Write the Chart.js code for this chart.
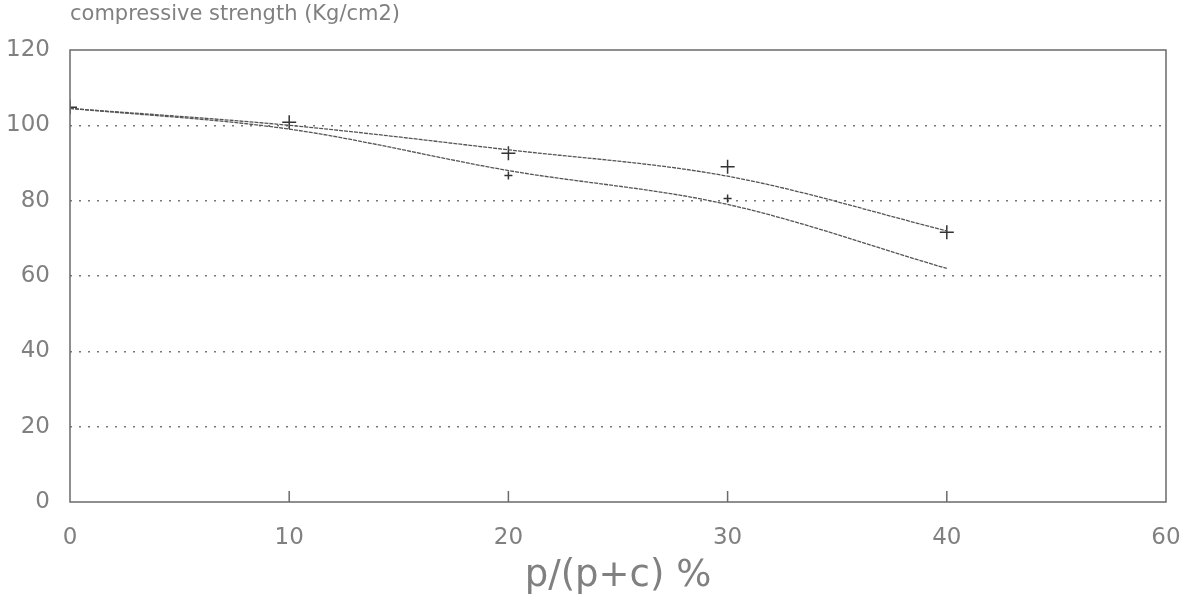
<!DOCTYPE html>
<html>
<head>
<meta charset="utf-8">
<script src="https://cdn.jsdelivr.net/npm/chart.js@4"></script>
<style>
  html, body { margin: 0; padding: 0; background: #fff; }
  #wrap { width: 1184px; height: 595px; }
</style>
</head>
<body>
<div id="wrap"><canvas id="grafico"></canvas></div>
<script>
// datos
const xPuntos = [0, 10, 20, 30, 40];
const xEtiquetas = ['0', '10', '20', '30', '40', '60'];   // el eje original salta de 40 a 60
const curvaSuperior = [104.5, 100, 93.5, 86.5, 72];
const curvaInferior = [104.5, 99, 88, 79, 62];
const marcasCruz = [104.8, 100.8, 92.6, 89, 71.6];
const marcasInferior = [null, null, 86.7, 80.6, null];
const yTicks = [0, 20, 40, 60, 80, 100, 120];

const gris = '#6a6a6a';
const fuente = 'DejaVu Sans';

function aPuntos(valores) {
    return xPuntos.map((x, i) => ({ x: x, y: valores[i] })).filter(p => p.y !== null);
}

// marco, marcas del eje x y título superior
const marco = {
    id: 'marco',
    afterDraw(chart) {
        const { ctx, chartArea, scales } = chart;
        ctx.save();
        ctx.strokeStyle = gris;
        ctx.lineWidth = 1.5;
        ctx.strokeRect(chartArea.left, chartArea.top, chartArea.right - chartArea.left, chartArea.bottom - chartArea.top);
        [10, 20, 30, 40].forEach(v => {
            const px = scales.x.getPixelForValue(v);
            ctx.beginPath();
            ctx.moveTo(px, chartArea.bottom);
            ctx.lineTo(px, chartArea.bottom - 11);
            ctx.stroke();
        });
        ctx.fillStyle = '#808080';
        ctx.font = '21px "' + fuente + '"';
        ctx.textBaseline = 'middle';
        ctx.textAlign = 'left';
        ctx.fillText('compressive strength (Kg/cm2)', chartArea.left, 15);
        ctx.restore();
    }
};

new Chart(document.getElementById('grafico'), {
    type: 'line',
    data: {
        datasets: [{
            label: 'superior',
            data: aPuntos(curvaSuperior),
            borderColor: '#555',
            borderWidth: 1.3,
            borderDash: [4, 1],
            pointRadius: 0,
            cubicInterpolationMode: 'monotone',
            fill: false
        }, {
            label: 'inferior',
            data: aPuntos(curvaInferior),
            borderColor: '#555',
            borderWidth: 1.3,
            borderDash: [4, 1],
            pointRadius: 0,
            cubicInterpolationMode: 'monotone',
            fill: false
        }, {
            label: 'cruces',
            data: aPuntos(marcasCruz),
            showLine: false,
            pointStyle: 'cross',
            pointRadius: 7,
            borderColor: '#333',
            borderWidth: 1.5
        }, {
            label: 'marcas',
            data: aPuntos(marcasInferior),
            showLine: false,
            pointStyle: 'cross',
            pointRadius: 4,
            borderColor: '#333',
            borderWidth: 1.5
        }]
    },
    options: {
        responsive: true,
        maintainAspectRatio: false,
        animation: false,
        layout: { padding: { top: 50, right: 18, left: 0, bottom: 0 } },
        scales: {
            x: {
                type: 'linear',
                min: 0,
                max: 50,
                afterBuildTicks: scale => { scale.ticks = [0, 10, 20, 30, 40, 50].map(v => ({ value: v })); },
                ticks: {
                    color: '#808080',
                    font: { family: fuente, size: 23 },
                    padding: 14,
                    callback: (v, i) => xEtiquetas[i]
                },
                grid: { display: false },
                border: { display: false },
                title: {
                    display: true,
                    text: 'p/(p+c) %',
                    color: '#808080',
                    font: { family: fuente, size: 37 },
                    padding: { top: 0, bottom: -4 }
                },
                afterFit: scale => {
                    scale.height = 93;
                    scale.paddingLeft = 0;
                    scale.paddingRight = 0;
                }
            },
            y: {
                min: 0,
                max: 120,
                afterBuildTicks: scale => { scale.ticks = yTicks.map(v => ({ value: v })); },
                ticks: {
                    color: '#808080',
                    font: { family: fuente, size: 23 },
                    padding: 20
                },
                grid: {
                    drawTicks: false,
                    color: ctx => (ctx.tick.value === 0 || ctx.tick.value === 120) ? 'rgba(0,0,0,0)' : '#777',
                    lineWidth: 1.5,
                    borderDash: [2, 7]
                },
                border: { display: false, dash: [2, 7] },
                afterFit: scale => {
                    scale.width = 70;
                    scale.paddingTop = 0;
                    scale.paddingBottom = 0;
                }
            }
        },
        plugins: {
            legend: { display: false },
            tooltip: { enabled: false }
        }
    },
    plugins: [marco]
});
</script>
</body>
</html>
